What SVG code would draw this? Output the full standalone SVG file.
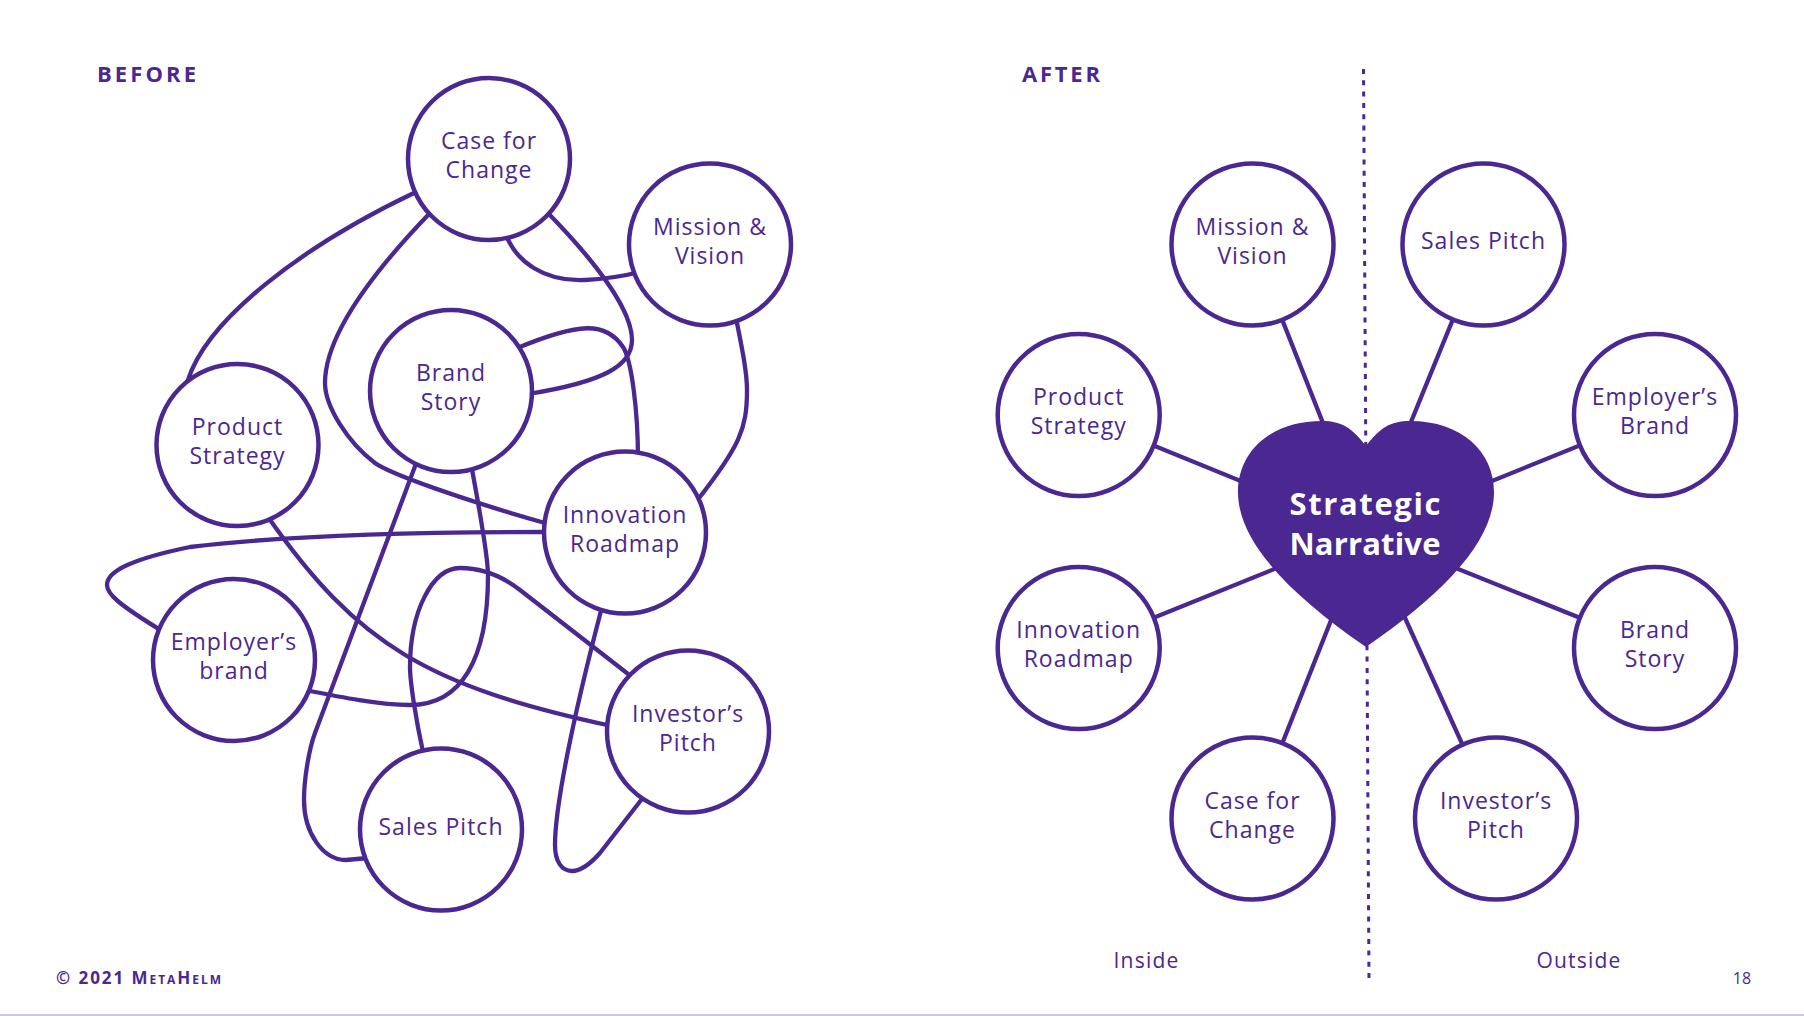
<svg xmlns="http://www.w3.org/2000/svg" width="1804" height="1016" viewBox="0 0 1804 1016">
<style>
  .bg { fill: #ffffff; }
  .node circle { fill: #ffffff; stroke: #4a2791; stroke-width: 4.5; }
  .lbl { font-family: "Open Sans", "Liberation Sans", sans-serif; font-size: 23px; fill: #4a2791; text-anchor: middle; letter-spacing: 1px; }
  .conn path, .conn line { fill: none; stroke: #4a2791; stroke-width: 4.3; stroke-linecap: round; }
  .title { font-family: "Open Sans", "Liberation Sans", sans-serif; font-size: 22px; font-weight: 700; fill: #4a2791; }
  .side { font-family: "Open Sans", "Liberation Sans", sans-serif; font-size: 21px; fill: #4a2791; text-anchor: middle; letter-spacing: 1.2px; }
  .foot { font-family: "Open Sans", "Liberation Sans", sans-serif; fill: #4a2791; }
  .heart { fill: #4a2791; }
  .heartlbl { font-family: "Open Sans", "Liberation Sans", sans-serif; font-size: 31px; font-weight: 700; fill: #ffffff; text-anchor: middle; }
  .divider { stroke: #4a2791; stroke-width: 3; stroke-dasharray: 5 6.3; fill: none; }
</style>
<rect class="bg" x="0" y="0" width="1804" height="1016"/>

<text class="title" x="97" y="82" textLength="99" lengthAdjust="spacing">BEFORE</text>
<text class="title" x="1022" y="82" textLength="78" lengthAdjust="spacing">AFTER</text>

<!-- BEFORE connectors -->
<g id="before-connectors" class="conn">
  <path d="M416,192 C300,247 207,320 188,380"/>
  <path d="M430,213 C375,270 325,335 325,383 C325,406 347.5,442.4 375,463 C389.3,473.7 465.8,500.7 545,523"/>
  <path d="M505,232 C515,262 545,282 585,280 C605,279 620,277 640,272"/>
  <path d="M545,210 C602,268 632,313 632,340 C632,366 603,382 528,394"/>
  <path d="M515,349 C579.8,321.8 606,321.5 623,347 C631.3,359.4 638,409.4 638,460"/>
  <path d="M736,318 C742,348 747,372 747,390 C747,429 740,446 696,502"/>
  <path d="M268,517 C358,645 427,686 612,726"/>
  <path d="M545,532 C420,532 280,536 190,547 C132,559 107,571 107,585 C107,594 118,604 162,631"/>
  <path d="M417,461 L315,733 C309,749 304,779 304,800 C304,833 323,860 346,860 L368,858"/>
  <path d="M471,464 C480,512 488,562 488,575 C488,660 461,705 410,705 C380,705 340,697 305,690"/>
  <path d="M423,752 C416,720 410,682 410,667 C410,612 432,568 460,568 C482,568 502,576 520,590 L632,677"/>
  <path d="M602,607 C571,725 555,809 555,845 C555,862 562,871 572,871 C582,871 592,862 600,853 L645,795"/>
</g>

<!-- BEFORE nodes -->
<g id="b-case-for-change" class="node">
  <circle cx="489" cy="159" r="81"/>
  <text class="lbl" x="489" y="149">Case for</text>
  <text class="lbl" x="489" y="178">Change</text>
</g>
<g id="b-mission-vision" class="node">
  <circle cx="710" cy="244.5" r="81"/>
  <text class="lbl" x="710" y="234.5">Mission &amp;</text>
  <text class="lbl" x="710" y="263.5">Vision</text>
</g>
<g id="b-brand-story" class="node">
  <circle cx="451" cy="391" r="81"/>
  <text class="lbl" x="451" y="381">Brand</text>
  <text class="lbl" x="451" y="410">Story</text>
</g>
<g id="b-product-strategy" class="node">
  <circle cx="237.5" cy="445" r="81"/>
  <text class="lbl" x="237.5" y="435">Product</text>
  <text class="lbl" x="237.5" y="463.5">Strategy</text>
</g>
<g id="b-innovation-roadmap" class="node">
  <circle cx="625" cy="532.5" r="81"/>
  <text class="lbl" x="625" y="522.5">Innovation</text>
  <text class="lbl" x="625" y="551.5">Roadmap</text>
</g>
<g id="b-employers-brand" class="node">
  <circle cx="234" cy="660" r="81"/>
  <text class="lbl" x="234" y="650">Employer’s</text>
  <text class="lbl" x="234" y="678.5">brand</text>
</g>
<g id="b-investors-pitch" class="node">
  <circle cx="688" cy="731.5" r="81"/>
  <text class="lbl" x="688" y="722">Investor’s</text>
  <text class="lbl" x="688" y="751">Pitch</text>
</g>
<g id="b-sales-pitch" class="node">
  <circle cx="441" cy="829.5" r="81"/>
  <text class="lbl" x="441" y="834.5">Sales Pitch</text>
</g>

<!-- AFTER divider -->
<line class="divider" x1="1363.5" y1="69" x2="1369" y2="982"/>

<!-- AFTER connectors -->
<g id="after-connectors" class="conn">
  <line x1="1252.5" y1="244.5" x2="1366" y2="532"/>
  <line x1="1483.5" y1="244.5" x2="1366" y2="532"/>
  <line x1="1078.7" y1="415" x2="1366" y2="532"/>
  <line x1="1655" y1="415" x2="1366" y2="532"/>
  <line x1="1078.7" y1="648" x2="1366" y2="532"/>
  <line x1="1655" y1="648" x2="1366" y2="532"/>
  <line x1="1252.5" y1="818.5" x2="1366" y2="532"/>
  <line x1="1496" y1="818.5" x2="1366" y2="532"/>
</g>

<!-- AFTER nodes -->
<g id="strategic-narrative">
  <path class="heart" d="M1366,446 C1352,428 1342,421 1322,421 C1270,421 1238,452 1238,492 C1238,540 1286,592 1366,647 C1446,592 1494,540 1494,492 C1494,452 1462,421 1410,421 C1390,421 1380,428 1366,446 Z"/>
  <text class="heartlbl" x="1365" y="515" textLength="151" lengthAdjust="spacing">Strategic</text>
  <text class="heartlbl" x="1365" y="555" textLength="151" lengthAdjust="spacing">Narrative</text>
</g>
<g id="a-mission-vision" class="node">
  <circle cx="1252.5" cy="244.5" r="81"/>
  <text class="lbl" x="1252.5" y="234.5">Mission &amp;</text>
  <text class="lbl" x="1252.5" y="263.5">Vision</text>
</g>
<g id="a-sales-pitch" class="node">
  <circle cx="1483.5" cy="244.5" r="81"/>
  <text class="lbl" x="1483.5" y="249">Sales Pitch</text>
</g>
<g id="a-product-strategy" class="node">
  <circle cx="1078.7" cy="415" r="81"/>
  <text class="lbl" x="1078.7" y="405">Product</text>
  <text class="lbl" x="1078.7" y="433.5">Strategy</text>
</g>
<g id="a-employers-brand" class="node">
  <circle cx="1655" cy="415" r="81"/>
  <text class="lbl" x="1655" y="405">Employer’s</text>
  <text class="lbl" x="1655" y="433.5">Brand</text>
</g>
<g id="a-innovation-roadmap" class="node">
  <circle cx="1078.7" cy="648" r="81"/>
  <text class="lbl" x="1078.7" y="638">Innovation</text>
  <text class="lbl" x="1078.7" y="667">Roadmap</text>
</g>
<g id="a-brand-story" class="node">
  <circle cx="1655" cy="648" r="81"/>
  <text class="lbl" x="1655" y="638">Brand</text>
  <text class="lbl" x="1655" y="667">Story</text>
</g>
<g id="a-case-for-change" class="node">
  <circle cx="1252.5" cy="818.5" r="81"/>
  <text class="lbl" x="1252.5" y="808.5">Case for</text>
  <text class="lbl" x="1252.5" y="837.5">Change</text>
</g>
<g id="a-investors-pitch" class="node">
  <circle cx="1496" cy="818.5" r="81"/>
  <text class="lbl" x="1496" y="808.5">Investor’s</text>
  <text class="lbl" x="1496" y="837.5">Pitch</text>
</g>

<text class="side" x="1146.5" y="968">Inside</text>
<text class="side" x="1579" y="968">Outside</text>

<text class="foot" x="56" y="983.5" font-size="17" font-weight="700" font-variant="small-caps" textLength="165" lengthAdjust="spacing">© 2021 MetaHelm</text>
<text class="foot" x="1742" y="984" font-size="16" text-anchor="middle">18</text>

<line x1="0" y1="1015" x2="1804" y2="1015" stroke="#bdb5d5" stroke-width="1.5"/>
</svg>
